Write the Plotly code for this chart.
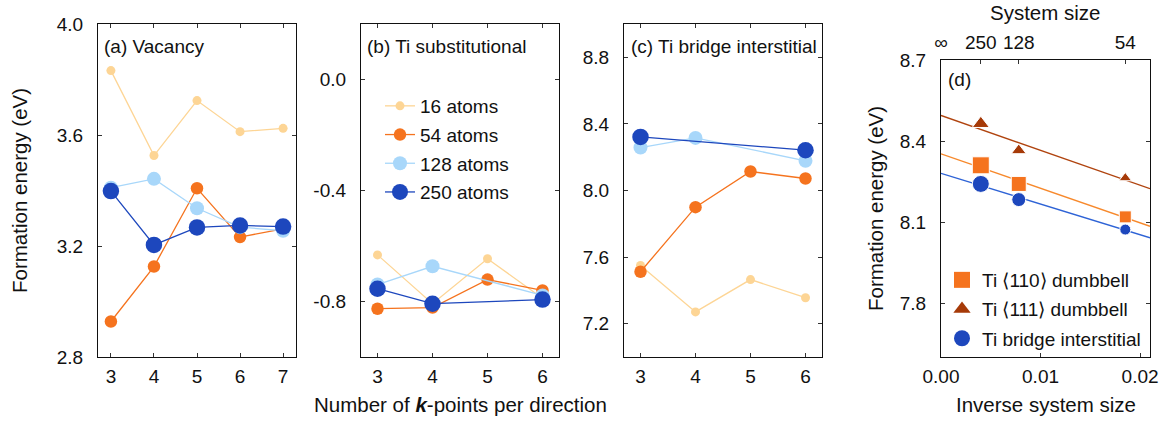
import numpy as np
import plotly.graph_objects as go

W, H = 1166, 421

# ---------------- data ----------------
series_names = ["16 atoms", "54 atoms", "128 atoms", "250 atoms"]

# (a) Vacancy
k_a = [3, 4, 5, 6, 7]
vac_16 = [3.832, 3.526, 3.724, 3.612, 3.624]
vac_54 = [2.928, 3.126, 3.408, 3.232, 3.262]
vac_128 = [3.410, 3.442, 3.336, 3.268, 3.255]
vac_250 = [3.398, 3.204, 3.267, 3.274, 3.270]

# (b) Ti substitutional
k_b = [3, 4, 5, 6]
sub_16 = [-0.632, -0.808, -0.646, -0.788]
sub_54 = [-0.826, -0.822, -0.721, -0.760]
k_b_128 = [3, 4, 6]
sub_128 = [-0.739, -0.673, -0.778]
k_b_250 = [3, 4, 6]
sub_250 = [-0.754, -0.808, -0.793]

# (c) Ti bridge interstitial
k_c = [3, 4, 5, 6]
bri_16 = [7.550, 7.271, 7.465, 7.356]
bri_54 = [7.512, 7.900, 8.114, 8.072]
k_c_128 = [3, 4, 6]
bri_128 = [8.258, 8.316, 8.178]
k_c_250 = [3, 6]
bri_250 = [8.322, 8.242]

# (d) finite-size scaling
n_atoms = [250, 128, 54]
e_110 = [8.310, 8.241, 8.119]
e_111 = [8.464, 8.365, 8.263]
e_bridge = [8.241, 8.183, 8.072]
top_tick_text = ["∞", "250", "128", "54"]
d_names = ["Ti ⟨110⟩ dumbbell", "Ti ⟨111⟩ dumbbell", "Ti bridge interstitial"]

# ---------------- styles ----------------
FONT = "Liberation Sans, Arial, Helvetica, sans-serif"
c16, c54, c128, c250 = "#FDD595", "#F5731E", "#A8D7FA", "#1D47BD"
sizes = [9, 12.5, 14, 16.5]
c110, c111, cbri = "#F5731E", "#A63A08", "#1D47BD"
l110, l111, lbri = "#F7892C", "#B0440F", "#2E63D6"
TICK = 19

def px_x(p):
    return p / W

def px_y(p):
    return 1 - p / H

fig = go.Figure()

def add_series(xs_list, ys_list, xa, ya, legend=False):
    cols = [c16, c54, c128, c250]
    for i, (xs, ys) in enumerate(zip(xs_list, ys_list)):
        fig.add_trace(go.Scatter(
            x=xs, y=ys, mode="lines+markers", name=series_names[i],
            line=dict(color=cols[i], width=1.3),
            marker=dict(color=cols[i], size=sizes[i], opacity=1),
            xaxis=xa, yaxis=ya, showlegend=legend, legend="legend",
            legendgroup=series_names[i]))

add_series([k_a, k_a, k_a, k_a], [vac_16, vac_54, vac_128, vac_250], "x", "y")
add_series([k_b, k_b, k_b_128, k_b_250], [sub_16, sub_54, sub_128, sub_250], "x2", "y2", legend=True)
add_series([k_c, k_c, k_c_128, k_c_250], [bri_16, bri_54, bri_128, bri_250], "x3", "y3")

# (d)
inv = [1.0 / n for n in n_atoms]
x_fit = np.array([0.0, 0.021])
d_sets = [
    (e_110, "square", c110, l110, [17, 15, 12], 16),
    (e_111, "triangle-up", c111, l111, [15, 13, 11], 15),
    (e_bridge, "circle", cbri, lbri, [17, 14, 11], 16),
]
for ys, sym, col, lcol, msz, lsz in d_sets:
    a, b = np.polyfit(inv, ys, 1)
    fig.add_trace(go.Scatter(x=x_fit, y=a * x_fit + b, mode="lines",
                             line=dict(color=lcol, width=1.4),
                             xaxis="x4", yaxis="y4", showlegend=False,
                             hoverinfo="skip"))
for i, (ys, sym, col, lcol, msz, lsz) in enumerate(d_sets):
    fig.add_trace(go.Scatter(x=inv, y=ys, mode="markers",
                             marker=dict(symbol=sym, color=col, size=msz, opacity=1),
                             xaxis="x4", yaxis="y4", showlegend=False))
    fig.add_trace(go.Scatter(x=[None], y=[None], mode="markers", name=d_names[i],
                             marker=dict(symbol=sym, color=col, size=lsz, opacity=1),
                             xaxis="x4", yaxis="y4", showlegend=True,
                             legend="legend2", legendgroup="d%d" % i))
# invisible trace so the top (system size) axis is drawn
fig.add_trace(go.Scatter(x=inv, y=e_bridge, mode="markers", opacity=0,
                         marker=dict(size=1), xaxis="x5", yaxis="y4",
                         showlegend=False, hoverinfo="skip"))

# ---------------- axes ----------------
axis_common = dict(showline=True, linecolor="#111", linewidth=1.2, mirror="ticks",
                   ticks="inside", ticklen=4, tickwidth=1, tickcolor="#333",
                   showgrid=False, zeroline=False, automargin=False,
                   tickfont=dict(family=FONT, size=TICK, color="#111"))

ydom = [px_y(357), px_y(24)]
fig.update_layout(
    xaxis=dict(domain=[px_x(98), px_x(296)], range=[2.7, 7.3], tickvals=k_a,
               anchor="y", ticklabelstandoff=2, **axis_common),
    yaxis=dict(domain=ydom, range=[2.8, 4.0], tickvals=[2.8, 3.2, 3.6, 4.0],
               ticktext=["2.8", "3.2", "3.6", "4.0"], anchor="x",
               ticklabelstandoff=10, **axis_common),
    xaxis2=dict(domain=[px_x(361), px_x(559)], range=[2.7, 6.3], tickvals=k_b,
                anchor="y2", ticklabelstandoff=2, **axis_common),
    yaxis2=dict(domain=ydom, range=[-1.0, 0.2], tickvals=[-0.8, -0.4, 0.0],
                ticktext=["-0.8", "-0.4", "0.0"], anchor="x2",
                ticklabelstandoff=10, **axis_common),
    xaxis3=dict(domain=[px_x(624), px_x(822)], range=[2.7, 6.3], tickvals=k_c,
                anchor="y3", ticklabelstandoff=2, **axis_common),
    yaxis3=dict(domain=ydom, range=[7.0, 9.0], tickvals=[7.2, 7.6, 8.0, 8.4, 8.8],
                ticktext=["7.2", "7.6", "8.0", "8.4", "8.8"], anchor="x3",
                ticklabelstandoff=10, **axis_common),
)
ax4 = dict(axis_common)
ax4["mirror"] = True
fig.update_layout(
    xaxis4=dict(domain=[px_x(941), px_x(1150)], range=[0, 0.021],
                tickvals=[0.0, 0.01, 0.02], ticktext=["0.00", "0.01", "0.02"],
                anchor="y4", ticklabelstandoff=2, **ax4),
    yaxis4=dict(domain=[px_y(357), px_y(60)], range=[7.6, 8.7],
                tickvals=[7.8, 8.1, 8.4, 8.7], ticktext=["7.8", "8.1", "8.4", "8.7"],
                anchor="x4", ticklabelstandoff=10, **axis_common),
    xaxis5=dict(overlaying="x4", side="top", anchor="y4", range=[0, 0.021],
                tickvals=[0.0] + inv, ticktext=top_tick_text,
                showline=False, ticks="inside", ticklen=4, tickwidth=1,
                tickcolor="#333", showgrid=False, zeroline=False,
                ticklabelstandoff=6, automargin=False,
                tickfont=dict(family=FONT, size=TICK, color="#111")),
)

# ---------------- legends ----------------
fig.update_layout(
    legend=dict(x=px_x(380), y=px_y(87), xanchor="left", yanchor="top",
                bgcolor="rgba(0,0,0,0)", font=dict(family=FONT, size=19, color="#111"),
                tracegroupgap=1, itemsizing="trace"),
    legend2=dict(x=px_x(942), y=px_y(261), xanchor="left", yanchor="top",
                 bgcolor="rgba(0,0,0,0)", font=dict(family=FONT, size=19, color="#111"),
                 tracegroupgap=1.5, itemsizing="trace"),
)

# ---------------- annotations ----------------
def ann(text, x, y, size, xanchor="left", angle=0):
    return dict(text=text, x=px_x(x), y=px_y(y), xref="paper", yref="paper",
                xanchor=xanchor, yanchor="middle", showarrow=False, textangle=angle,
                font=dict(family=FONT, size=size, color="#111"))

annotations = [
    ann("(a) Vacancy", 102, 46, 19),
    ann("(b) Ti substitutional", 365, 46, 19),
    ann("(c) Ti bridge interstitial", 629, 46, 19),
    ann("(d)", 946, 80, 19),
    ann("Formation energy (eV)", 20, 191, 20.5, "center", -90),
    ann("Formation energy (eV)", 875, 209, 20.5, "center", -90),
    ann("Number of <b><i>k</i></b>-points per direction", 460, 404, 20.5, "center"),
    ann("Inverse system size", 1046, 404, 20.5, "center"),
    ann("System size", 1045, 13, 20.5, "center"),
]

fig.update_layout(
    template="none",
    width=W, height=H, margin=dict(l=0, r=0, t=0, b=0, pad=0),
    plot_bgcolor="white", paper_bgcolor="white",
    annotations=annotations,
    font=dict(family=FONT, color="#111"),
)

fig.write_html("out.html")
